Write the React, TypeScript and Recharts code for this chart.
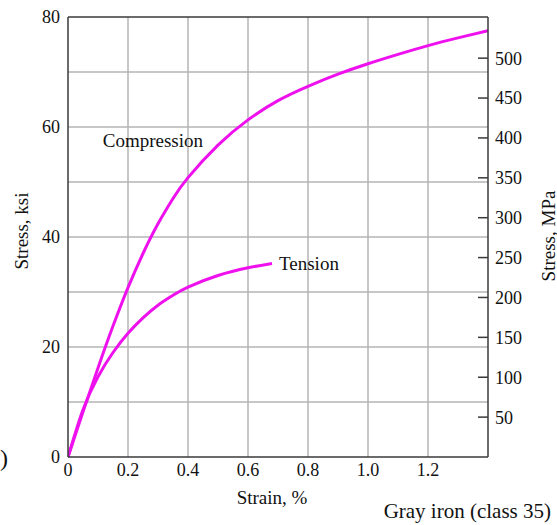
import React from 'react';
import { LineChart, Line, XAxis, YAxis, CartesianGrid, ReferenceLine, ReferenceDot } from 'recharts';

const compressionStrain = [0, 0.05, 0.1, 0.15, 0.2, 0.25, 0.3, 0.35, 0.4, 0.5, 0.6, 0.7, 0.8, 0.9, 1.0, 1.1, 1.2, 1.3, 1.4];
const compressionStress = [0, 8.2, 16.2, 23.8, 30.8, 37.0, 42.4, 47.0, 50.8, 56.7, 61.3, 64.8, 67.4, 69.6, 71.5, 73.2, 74.8, 76.2, 77.5];
const tensionStrain = [0, 0.05, 0.1, 0.15, 0.2, 0.25, 0.3, 0.35, 0.4, 0.5, 0.6, 0.68];
const tensionStress = [0, 8.6, 14.6, 19.0, 22.5, 25.3, 27.6, 29.4, 30.9, 33.0, 34.4, 35.2];

const strainTicks = [0, 0.2, 0.4, 0.6, 0.8, 1.0, 1.2];
const ksiTicks = [0, 20, 40, 60, 80];
const mpaTicks = [50, 100, 150, 200, 250, 300, 350, 400, 450, 500];
const gridKsi = [10, 20, 30, 40, 50, 60, 70];
const gridStrain = [0.2, 0.4, 0.6, 0.8, 1.0, 1.2];
const KSI_TO_MPA = 6.895;
const KSI_MAX = 80;
const STRAIN_MAX = 1.4;

const compressionData = compressionStrain.map((s, i) => ({ strain: s, stress: compressionStress[i] }));
const tensionData = tensionStrain.map((s, i) => ({ strain: s, stress: tensionStress[i] }));
const tensionEnd = tensionData[tensionData.length - 1];

const FONT = '"Liberation Serif", "Times New Roman", serif';
const TEXT = '#111';
const AXIS = '#3a3a3a';
const GRID = '#b4b4b4';
const CURVE = '#ee11ee';

const tickStyle = { fontFamily: FONT, fontSize: 18, fill: TEXT };

export default function App() {
  return (
    <div style={{ position: 'absolute', left: 0, top: 0, width: 557, height: 525, background: '#fff' }}>
      <LineChart width={557} height={525} margin={{ top: 17, right: 0, bottom: 0, left: 0 }}>
        <CartesianGrid
          yAxisId="ksi"
          stroke={GRID}
          strokeWidth={1.5}
          horizontalValues={gridKsi}
          verticalValues={gridStrain}
        />
        <XAxis
          dataKey="strain"
          type="number"
          domain={[0, STRAIN_MAX]}
          ticks={strainTicks}
          height={68}
          tickSize={0}
          tickMargin={6}
          tick={tickStyle}
          tickFormatter={(v: number) => (v === 0 ? '0' : v.toFixed(1))}
          axisLine={{ stroke: AXIS, strokeWidth: 1.5 }}
          allowDataOverflow
        />
        <YAxis
          yAxisId="ksi"
          type="number"
          domain={[0, KSI_MAX]}
          ticks={ksiTicks}
          width={68}
          tickSize={0}
          tickMargin={8}
          tick={tickStyle}
          axisLine={{ stroke: AXIS, strokeWidth: 1.5 }}
        />
        <YAxis
          yAxisId="mpa"
          orientation="right"
          type="number"
          domain={[0, KSI_MAX * KSI_TO_MPA]}
          ticks={mpaTicks}
          width={69}
          tickSize={-10}
          tickMargin={17}
          tick={tickStyle}
          tickLine={{ stroke: AXIS, strokeWidth: 1.5 }}
          axisLine={{ stroke: AXIS, strokeWidth: 1.5 }}
          allowDataOverflow
        />
        <ReferenceLine yAxisId="ksi" y={KSI_MAX} stroke={AXIS} strokeWidth={1.5} />
        <Line
          yAxisId="ksi"
          data={compressionData}
          dataKey="stress"
          type="natural"
          stroke={CURVE}
          strokeWidth={3}
          dot={false}
          isAnimationActive={false}
        />
        <Line
          yAxisId="ksi"
          data={tensionData}
          dataKey="stress"
          type="natural"
          stroke={CURVE}
          strokeWidth={3}
          dot={false}
          isAnimationActive={false}
        />
        <ReferenceDot
          yAxisId="ksi"
          x={0.283}
          y={57.5}
          r={0}
          fill="none"
          stroke="none"
          label={{ value: 'Compression', position: 'center', fill: TEXT, fontSize: 19, fontFamily: FONT }}
        />
        <ReferenceDot
          yAxisId="ksi"
          x={tensionEnd.strain}
          y={tensionEnd.stress}
          r={0}
          fill="none"
          stroke="none"
          label={{ value: 'Tension', position: 'right', offset: 7, fill: TEXT, fontSize: 19, fontFamily: FONT }}
        />
      </LineChart>
      <svg width={557} height={525} style={{ position: 'absolute', left: 0, top: 0, pointerEvents: 'none' }}>
        <g fontFamily={FONT} fill={TEXT}>
          <text x={21} y={231} fontSize={19} textAnchor="middle" dominantBaseline="central" transform="rotate(-90 21 231)">Stress, ksi</text>
          <text x={548} y={236} fontSize={19} textAnchor="middle" dominantBaseline="central" transform="rotate(-90 548 236)">Stress, MPa</text>
          <text x={272} y={497} fontSize={19} textAnchor="middle" dominantBaseline="central">Strain, %</text>
          <text x={551} y={511} fontSize={21} textAnchor="end" dominantBaseline="central">Gray iron (class 35)</text>
          <text x={0} y={458} fontSize={24} dominantBaseline="central">)</text>
        </g>
      </svg>
    </div>
  );
}
